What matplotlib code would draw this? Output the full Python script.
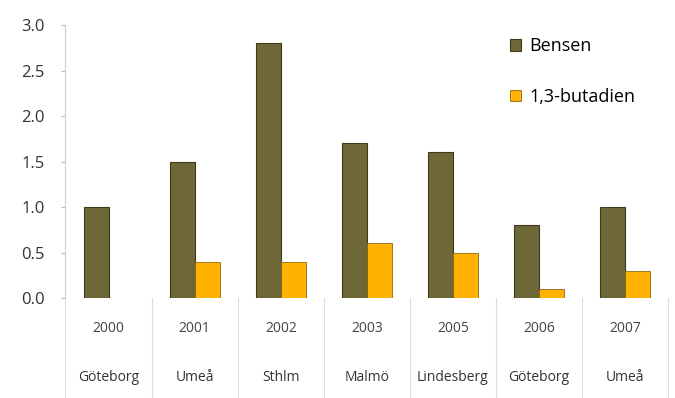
import numpy as np
import matplotlib.pyplot as plt

# chart data
years = ["2000", "2001", "2002", "2003", "2005", "2006", "2007"]
cities = ["Göteborg", "Umeå", "Sthlm", "Malmö", "Lindesberg", "Göteborg", "Umeå"]
bensen = [1.0, 1.5, 2.8, 1.7, 1.6, 0.8, 1.0]
butadien = [0.0, 0.4, 0.4, 0.6, 0.5, 0.1, 0.3]

plt.rcParams['font.family'] = ['Open Sans', 'DejaVu Sans']

fig = plt.figure(figsize=(6.75, 3.98), dpi=100)
ax = fig.add_axes([0.097, 0.251, 0.893, 0.686])

x = np.arange(len(years))
w = 0.29
ax.bar(x - w/2, bensen, w, color='#6e6838', edgecolor='#3f3a1c', linewidth=0.8, label='Bensen')
ax.bar(x + w/2, butadien, w, color='#ffb300', edgecolor='#8a6a10', linewidth=0.6, label='1,3-butadien')

ax.set_xlim(-0.5, len(years) - 0.5)
ax.set_ylim(0, 3.0)
ax.set_yticks(np.arange(0, 3.01, 0.5))
ax.set_yticklabels([f"{v:.1f}" for v in np.arange(0, 3.01, 0.5)], fontsize=12, color='#333333')
ax.tick_params(axis='y', length=3, color='#bbbbbb', pad=12)
ax.set_xticks([])

for s in ['top', 'right', 'bottom']:
    ax.spines[s].set_visible(False)
ax.spines['left'].set_color('#cccccc')

# two-level category labels with dividers
trans = ax.get_xaxis_transform()
for i in range(len(years)):
    ax.text(i, -0.11, years[i], transform=trans, ha='center', va='center', fontsize=10, color='#444444')
    ax.text(i, -0.29, cities[i], transform=trans, ha='center', va='center', fontsize=10, color='#333333')
for b in np.arange(-0.5, len(years)):
    ax.plot([b, b], [0, -0.37], transform=trans, color='#dddddd', lw=0.8, clip_on=False)

ax.legend(loc='upper left', bbox_to_anchor=(0.71, 1.015), frameon=False, fontsize=13,
          handlelength=0.6, handleheight=0.6, labelspacing=1.8, handletextpad=0.5)

plt.savefig('out.png', dpi=100)
